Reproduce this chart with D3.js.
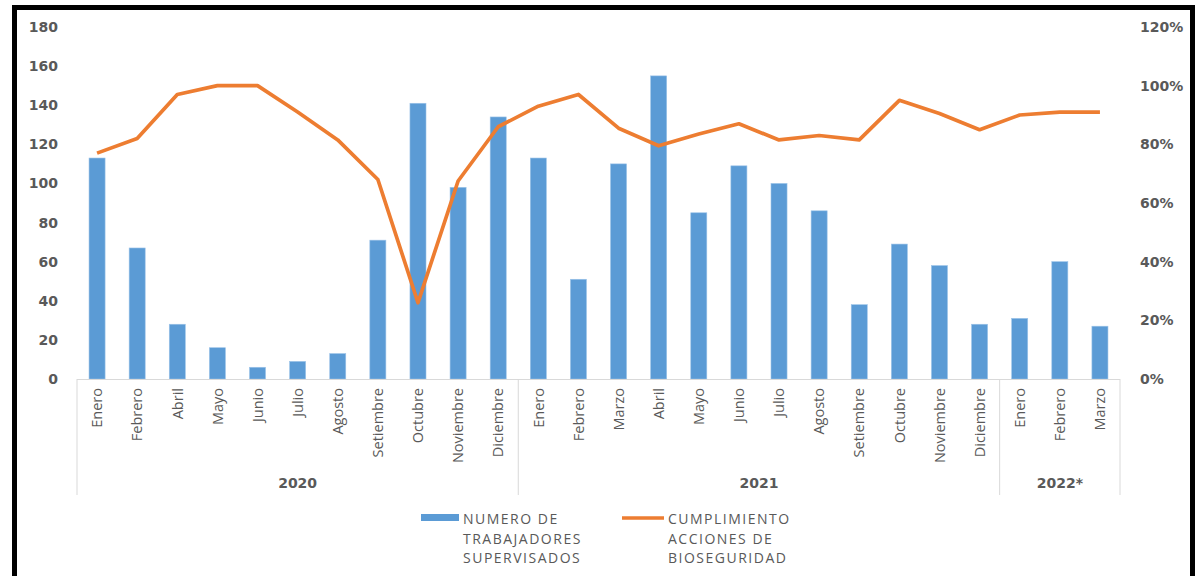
<!DOCTYPE html>
<html>
<head>
<meta charset="utf-8">
<script src="https://cdn.jsdelivr.net/npm/d3@7"></script>
<style>
  html, body { margin: 0; padding: 0; background: #ffffff; }
  svg { display: block; }
</style>
</head>
<body>
<svg id="chart" width="1204" height="576"></svg>
<script>
// ---- DATA ----
const years = ["2020", "2020", "2020", "2020", "2020", "2020", "2020", "2020", "2020", "2020", "2020",
               "2021", "2021", "2021", "2021", "2021", "2021", "2021", "2021", "2021", "2021", "2021", "2021",
               "2022*", "2022*", "2022*"];
const months = ["Enero", "Febrero", "Abril", "Mayo", "Junio", "Julio", "Agosto", "Setiembre", "Octubre", "Noviembre", "Diciembre",
                "Enero", "Febrero", "Marzo", "Abril", "Mayo", "Junio", "Julio", "Agosto", "Setiembre", "Octubre", "Noviembre", "Diciembre",
                "Enero", "Febrero", "Marzo"];
const trabajadores = [113, 67, 28, 16, 6, 9, 13, 71, 141, 98, 134,
                      113, 51, 110, 155, 85, 109, 100, 86, 38, 69, 58, 28,
                      31, 60, 27];
const cumplimiento = [0.77, 0.82, 0.97, 1.00, 1.00, 0.91, 0.815, 0.68, 0.26, 0.675, 0.86,
                      0.93, 0.97, 0.855, 0.795, 0.835, 0.87, 0.815, 0.83, 0.815, 0.95, 0.905, 0.85,
                      0.90, 0.91, 0.91];
const leftTicks = [0, 20, 40, 60, 80, 100, 120, 140, 160, 180];
const rightTicks = [0, 0.2, 0.4, 0.6, 0.8, 1.0, 1.2];
const seriesNames = [["NUMERO DE", "TRABAJADORES", "SUPERVISADOS"], ["CUMPLIMIENTO", "ACCIONES DE", "BIOSEGURIDAD"]];
const colors = ["#5b9bd5", "#ed7d31"];

// ---- LAYOUT ----
const svg = d3.select("#chart");
const plotLeft = 77, plotRight = 1120, plotTop = 27, plotBottom = 379;
const numFont = "'DejaVu Sans', Verdana, sans-serif";
const txtFont = "'Open Sans', 'Noto Sans', sans-serif";
const grey = "#595959";

// frame
svg.append("rect").attr("x", 0).attr("y", 0).attr("width", 1204).attr("height", 576).attr("fill", "#fff");
svg.append("rect")
  .attr("x", 14.5).attr("y", 7.5).attr("width", 1178).attr("height", 600)
  .attr("fill", "#fff").attr("stroke", "#000").attr("stroke-width", 5);

const keys = months.map((m, i) => i + "|" + m);

const x = d3.scaleBand().domain(keys).range([plotLeft, plotRight])
  .paddingInner(0.6).paddingOuter(0.3);
const y = d3.scaleLinear().domain([0, 180]).range([plotBottom, plotTop]);
const y2 = d3.scaleLinear().domain([0, 1.2]).range([plotBottom, plotTop]);
const gap = (x.step() - x.bandwidth()) / 2;

// left axis
const gl = svg.append("g").attr("transform", `translate(${plotLeft},0)`)
  .call(d3.axisLeft(y).tickValues(leftTicks).tickSize(0).tickPadding(19));
gl.select(".domain").remove();
gl.selectAll("text").attr("font-family", numFont).attr("font-weight", "bold")
  .attr("font-size", 14).attr("fill", grey);

// right axis
const gr = svg.append("g").attr("transform", `translate(${plotRight},0)`)
  .call(d3.axisRight(y2).tickValues(rightTicks).tickFormat(d3.format(".0%")).tickSize(0).tickPadding(20));
gr.select(".domain").remove();
gr.selectAll("text").attr("font-family", numFont).attr("font-weight", "bold")
  .attr("font-size", 14).attr("fill", grey);

// bars
svg.append("g").selectAll("rect").data(trabajadores).join("rect")
  .attr("x", (d, i) => x(keys[i]))
  .attr("width", x.bandwidth())
  .attr("y", d => y(d))
  .attr("height", d => y(0) - y(d))
  .attr("fill", colors[0])
  .attr("stroke", "#9cc3e8").attr("stroke-width", 0.6);

// category axis (bottom)
const gb = svg.append("g").attr("transform", `translate(0,${plotBottom})`)
  .call(d3.axisBottom(x).tickSize(0).tickFormat(k => k.split("|")[1]));
gb.select(".domain").attr("stroke", "#d9d9d9").attr("stroke-width", 1)
  .attr("d", `M${plotLeft},0.5H${plotRight}`);
gb.selectAll(".tick text")
  .attr("transform", "rotate(-90)")
  .attr("x", -9).attr("y", 0).attr("dy", "0.36em")
  .attr("text-anchor", "end")
  .attr("font-family", txtFont).attr("font-size", 14.5).attr("fill", grey);

// year groups
const groupNames = Array.from(new Set(years));
const groups = groupNames.map(g => {
  const idx = years.map((yy, i) => yy === g ? i : -1).filter(i => i >= 0);
  const x0 = x(keys[idx[0]]) - gap;
  const x1 = x(keys[idx[idx.length - 1]]) + x.bandwidth() + gap;
  return { name: g, x0, x1 };
});
const divX = [groups[0].x0].concat(groups.map(g => g.x1));
svg.append("g").selectAll("line").data(divX).join("line")
  .attr("x1", d => d).attr("x2", d => d)
  .attr("y1", plotBottom).attr("y2", 495)
  .attr("stroke", "#d9d9d9").attr("stroke-width", 1);
svg.append("g").selectAll("text").data(groups).join("text")
  .attr("x", d => (d.x0 + d.x1) / 2).attr("y", 488)
  .attr("text-anchor", "middle")
  .attr("font-family", numFont).attr("font-weight", "bold").attr("font-size", 14)
  .attr("fill", grey).text(d => d.name);

// line
const line = d3.line()
  .x((d, i) => x(keys[i]) + x.bandwidth() / 2)
  .y(d => y2(d));
svg.append("path").datum(cumplimiento)
  .attr("d", line)
  .attr("fill", "none").attr("stroke", colors[1]).attr("stroke-width", 3.7)
  .attr("stroke-linejoin", "round");

// legend
const lg = svg.append("g");
const legX = [421, 622];
seriesNames.forEach((names, s) => {
  const g = lg.append("g").attr("transform", `translate(${legX[s]},0)`);
  if (s === 0) {
    g.append("rect").attr("x", 0).attr("y", 514).attr("width", 38).attr("height", 7).attr("fill", colors[0]);
  } else {
    g.append("line").attr("x1", 0).attr("x2", 42).attr("y1", 518).attr("y2", 518)
      .attr("stroke", colors[1]).attr("stroke-width", 3.5);
  }
  const tx = s === 0 ? 42 : 46;
  g.append("g").selectAll("text").data(names).join("text")
    .attr("x", tx).attr("y", (d, i) => 524 + i * 19.5)
    .attr("font-family", txtFont).attr("font-size", 14).attr("letter-spacing", 1.5)
    .attr("fill", grey).text(d => d);
});
</script>
</body>
</html>
